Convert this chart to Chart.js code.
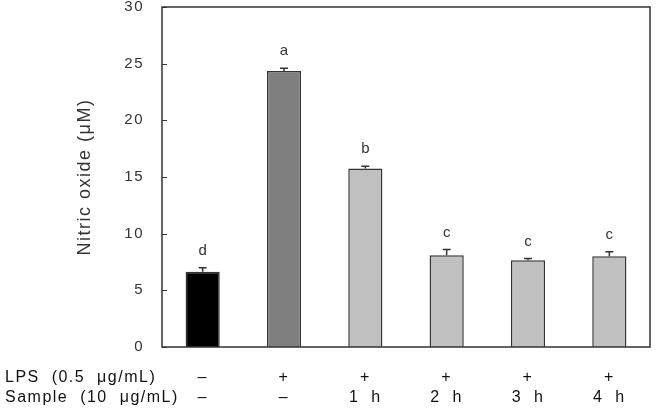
<!DOCTYPE html>
<html>
<head>
<meta charset="utf-8">
<script src="https://cdn.jsdelivr.net/npm/chart.js@4/dist/chart.umd.min.js"></script>
<style>
  html, body { margin: 0; padding: 0; background: #fff; }
  #wrap { width: 660px; height: 409px; }
</style>
</head>
<body>
<div id="wrap"><canvas id="chart" width="660" height="409"></canvas></div>
<script>
// Data
const categories = ["Control", "LPS", "LPS + 1 h", "LPS + 2 h", "LPS + 3 h", "LPS + 4 h"];
const nitricOxide = [6.65, 24.35, 15.75, 8.1, 7.65, 8.0];
const errors = [0.35, 0.25, 0.2, 0.5, 0.15, 0.4];
const letters = ["d", "a", "b", "c", "c", "c"];
const lpsRow = ["–", "+", "+", "+", "+", "+"];
const sampleRow = ["–", "–", "1  h", "2  h", "3  h", "4  h"];
const yTicks = [0, 5, 10, 15, 20, 25, 30];

const barColors = ["#000000", "#7f7f7f", "#c0c0c0", "#c0c0c0", "#c0c0c0", "#c0c0c0"];
const FONT = "Liberation Sans, Arial, sans-serif";

// wider letter spacing, like the original figure's text
const spacing = {
  id: "spacing",
  beforeDraw(chart) {
    chart.ctx.letterSpacing = "1.5px";
  },
};

// frame, inward ticks, error bars, letters and the treatment table
const extras = {
  id: "extras",
  afterDatasetsDraw(chart) {
    const { ctx, chartArea: a, scales: { x, y } } = chart;
    ctx.save();
    ctx.strokeStyle = "#333";
    ctx.lineWidth = 1.5;
    ctx.strokeRect(a.left, a.top, a.right - a.left, a.bottom - a.top);

    // inward tick marks
    ctx.lineWidth = 1;
    yTicks.forEach((t) => {
      const py = Math.round(y.getPixelForValue(t)) + 0.5;
      ctx.beginPath();
      ctx.moveTo(a.left, py);
      ctx.lineTo(a.left + 5, py);
      ctx.stroke();
    });

    // error bars (upper only) and significance letters
    ctx.lineWidth = 1.5;
    ctx.letterSpacing = "0px";
    nitricOxide.forEach((v, i) => {
      const px = x.getPixelForValue(i);
      const top = y.getPixelForValue(v + errors[i]);
      ctx.beginPath();
      ctx.moveTo(px, y.getPixelForValue(v));
      ctx.lineTo(px, top);
      ctx.moveTo(px - 4, top);
      ctx.lineTo(px + 4, top);
      ctx.stroke();

      ctx.fillStyle = "#333";
      ctx.font = "15px " + FONT;
      ctx.textAlign = "center";
      ctx.textBaseline = "middle";
      ctx.fillText(letters[i], px, top - 17);
    });

    // treatment table under the axis
    ctx.fillStyle = "#111";
    ctx.font = "16px " + FONT;
    ctx.letterSpacing = "1.5px";
    ctx.textBaseline = "middle";
    ctx.textAlign = "left";
    ctx.fillText("LPS  (0.5  μg/mL)", 5, 378);
    ctx.fillText("Sample  (10  μg/mL)", 5, 398);
    ctx.textAlign = "center";
    categories.forEach((c, i) => {
      const px = x.getPixelForValue(i);
      ctx.fillText(lpsRow[i], px, 378);
      ctx.fillText(sampleRow[i], px, 398);
    });
    ctx.restore();
  },
};

new Chart(document.getElementById("chart"), {
  type: "bar",
  data: {
    labels: categories,
    datasets: [
      {
        data: nitricOxide,
        backgroundColor: barColors,
        borderColor: "#333",
        borderWidth: 1.5,
        barPercentage: 0.42,
        categoryPercentage: 1,
      },
    ],
  },
  options: {
    responsive: false,
    animation: false,
    layout: { padding: { top: 7, right: 10, left: 0, bottom: 0 } },
    plugins: { legend: { display: false }, tooltip: { enabled: false } },
    scales: {
      x: {
        grid: { display: false },
        border: { display: false },
        ticks: { display: false },
        afterFit: (s) => {
          s.height = 62;
          s.paddingLeft = 0;
          s.paddingRight = 0;
        },
      },
      y: {
        min: 0,
        max: 30,
        afterBuildTicks: (s) => { s.ticks = yTicks.map((v) => ({ value: v })); },
        grid: { display: false, drawTicks: false },
        border: { display: false },
        ticks: { padding: 18, color: "#333", font: { family: FONT, size: 15 } },
        title: {
          display: true,
          text: "Nitric oxide (μM)",
          color: "#333",
          font: { family: FONT, size: 18 },
          padding: { top: 74, bottom: 0 },
        },
        afterFit: (s) => {
          s.width = 162;
          s.paddingTop = 0;
          s.paddingBottom = 0;
        },
      },
    },
  },
  plugins: [spacing, extras],
});
</script>
</body>
</html>
